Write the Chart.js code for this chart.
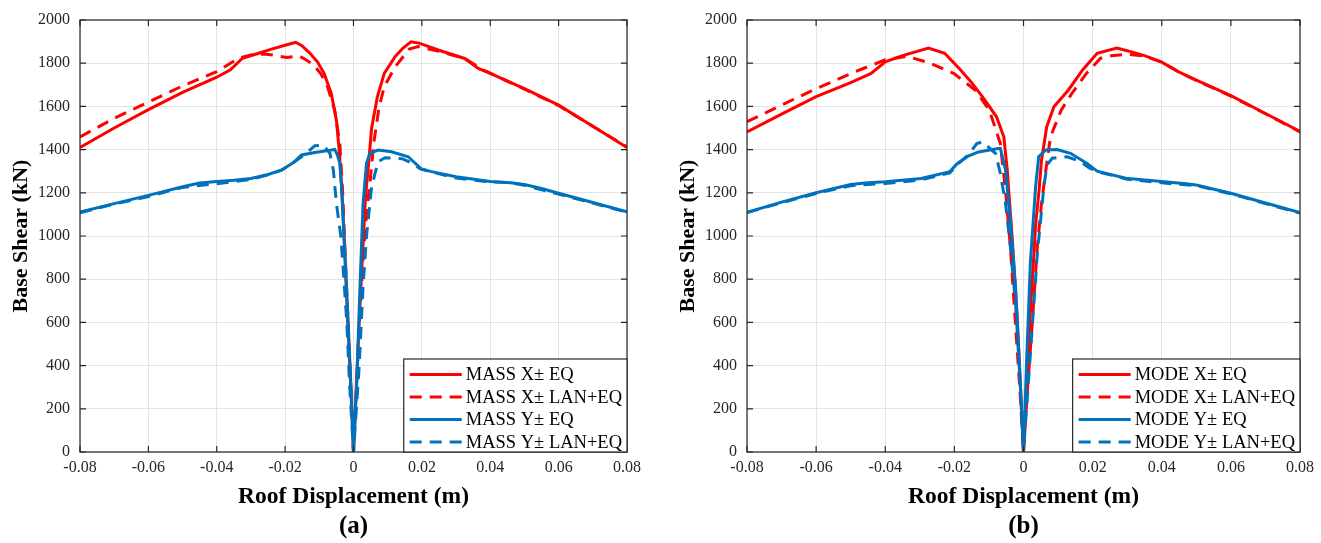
<!DOCTYPE html>
<html>
<head>
<meta charset="utf-8">
<script src="https://cdn.jsdelivr.net/npm/chart.js@4.4.1/dist/chart.umd.min.js"></script>
<style>
  body { margin: 0; background: #fff; width: 1321px; height: 543px; overflow: hidden; position: relative; }
  canvas { position: absolute; top: 0; }
  #chartA { left: 0; }
  #chartB { left: 667px; }
</style>
</head>
<body>
<canvas id="chartA" width="660" height="543"></canvas>
<canvas id="chartB" width="654" height="543"></canvas>
<script>
// axis ticks
const xTicks = [-0.08, -0.06, -0.04, -0.02, 0, 0.02, 0.04, 0.06, 0.08];
const xTickLabels = ['-0.08', '-0.06', '-0.04', '-0.02', '0', '0.02', '0.04', '0.06', '0.08'];
const yTicks = [0, 200, 400, 600, 800, 1000, 1200, 1400, 1600, 1800, 2000];
const yTickLabels = ['0', '200', '400', '600', '800', '1000', '1200', '1400', '1600', '1800', '2000'];

const namesA = ['MASS X\u00b1 EQ', 'MASS X\u00b1 LAN+EQ', 'MASS Y\u00b1 EQ', 'MASS Y\u00b1 LAN+EQ'];
const namesB = ['MODE X\u00b1 EQ', 'MODE X\u00b1 LAN+EQ', 'MODE Y\u00b1 EQ', 'MODE Y\u00b1 LAN+EQ'];

// (a) MASS X± EQ
const massXEqDisp = [-0.08, -0.07, -0.06, -0.05, -0.04, -0.036, -0.0325, -0.028, -0.024, -0.02, -0.0169, -0.015, -0.0128, -0.0105, -0.0086, -0.0065, -0.005, -0.0042, -0.0034, -0.0025, -0.0017, -0.0008, 0,
  0.0008, 0.0017, 0.0026, 0.0035, 0.0044, 0.0053, 0.007, 0.009, 0.0122, 0.0145, 0.0168, 0.0192, 0.025, 0.0325, 0.0365, 0.04, 0.05, 0.06, 0.07, 0.08];
const massXEqShear = [1410, 1500, 1585, 1665, 1735, 1769, 1823, 1845, 1865, 1883, 1897, 1880, 1847, 1805, 1753, 1660, 1536, 1400, 1211, 900, 611, 300, 0,
  300, 611, 900, 1180, 1330, 1500, 1645, 1753, 1831, 1870, 1899, 1893, 1860, 1822, 1776, 1753, 1682, 1606, 1508, 1410];

// (a) MASS X± LAN+EQ
const massXLanDisp = [-0.08, -0.07, -0.06, -0.05, -0.04, -0.0336, -0.03, -0.026, -0.0225, -0.0195, -0.016, -0.0138, -0.0117, -0.0095, -0.0076, -0.0055, -0.0047, -0.004, -0.0032, -0.0024, -0.0016, -0.0008, 0,
  0.0009, 0.0018, 0.0028, 0.0038, 0.0049, 0.0059, 0.0075, 0.009, 0.0122, 0.0163, 0.0189, 0.025, 0.0325, 0.038, 0.05, 0.06, 0.07, 0.08];
const massXLanShear = [1459, 1545, 1620, 1695, 1761, 1823, 1838, 1843, 1835, 1826, 1834, 1815, 1792, 1750, 1691, 1583, 1500, 1428, 1211, 900, 611, 300, 0,
  300, 611, 900, 1100, 1260, 1428, 1598, 1691, 1784, 1865, 1877, 1855, 1822, 1768, 1680, 1604, 1508, 1412];

// (a) MASS Y± EQ
const massYEqDisp = [-0.08, -0.07, -0.06, -0.05, -0.045, -0.04, -0.035, -0.03, -0.025, -0.021, -0.0172, -0.0152, -0.0113, -0.0064, -0.0055, -0.0047, -0.004, -0.0035, -0.0025, -0.0016, -0.0006, 0,
  0.0009, 0.0019, 0.0028, 0.0038, 0.0048, 0.0072, 0.0111, 0.016, 0.0199, 0.0228, 0.03, 0.04, 0.046, 0.05, 0.055, 0.06, 0.07, 0.08];
const massYEqShear = [1111, 1150, 1188, 1228, 1245, 1252, 1258, 1266, 1285, 1306, 1344, 1375, 1387, 1398, 1401, 1375, 1336, 1228, 919, 611, 250, 0,
  302, 767, 1152, 1336, 1383, 1398, 1390, 1367, 1310, 1298, 1274, 1252, 1247, 1238, 1220, 1198, 1155, 1112];

// (a) MASS Y± LAN+EQ
const massYLanDisp = [-0.08, -0.07, -0.06, -0.05, -0.04, -0.03, -0.025, -0.021, -0.0172, -0.014, -0.0113, -0.0089, -0.0069, -0.0059, -0.005, -0.0037, -0.003, -0.002, -0.0011, 0,
  0.0008, 0.0016, 0.0028, 0.0038, 0.0053, 0.0072, 0.0092, 0.0142, 0.0174, 0.0194, 0.023, 0.03, 0.04, 0.045, 0.05, 0.06, 0.07, 0.08];
const massYLanShear = [1108, 1148, 1183, 1225, 1242, 1262, 1283, 1305, 1345, 1380, 1418, 1421, 1383, 1306, 1152, 998, 843, 611, 302, 0,
  190, 380, 767, 998, 1228, 1344, 1362, 1358, 1335, 1312, 1296, 1268, 1250, 1248, 1235, 1194, 1152, 1110];

// (b) MODE X± EQ
const modeXEqDisp = [-0.08, -0.07, -0.06, -0.05, -0.0441, -0.04, -0.035, -0.0275, -0.0228, -0.0182, -0.015, -0.0119, -0.0078, -0.0057, -0.0047, -0.004, -0.0033, -0.0018, -0.0009, 0,
  0.0009, 0.002, 0.0035, 0.0045, 0.0052, 0.0067, 0.0088, 0.013, 0.0171, 0.0213, 0.027, 0.03, 0.035, 0.04, 0.0452, 0.05, 0.06, 0.07, 0.08];
const modeXEqShear = [1482, 1564, 1645, 1710, 1753, 1806, 1835, 1870, 1846, 1769, 1710, 1645, 1552, 1459, 1306, 1150, 998, 611, 310, 0,
  310, 650, 1050, 1211, 1350, 1505, 1598, 1676, 1769, 1846, 1870, 1858, 1835, 1805, 1757, 1722, 1650, 1567, 1484];

// (b) MODE X± LAN+EQ
const modeXLanDisp = [-0.08, -0.07, -0.06, -0.05, -0.04, -0.0337, -0.0275, -0.0202, -0.014, -0.0099, -0.0067, -0.0052, -0.0038, -0.0024, -0.0011, 0,
  0.0012, 0.0026, 0.004, 0.0052, 0.0062, 0.0078, 0.0109, 0.014, 0.0182, 0.0223, 0.0254, 0.03, 0.035, 0.04, 0.0452, 0.05, 0.06, 0.07, 0.08];
const modeXLanShear = [1529, 1606, 1682, 1752, 1816, 1832, 1803, 1753, 1676, 1583, 1428, 1211, 950, 611, 302, 0,
  302, 611, 950, 1150, 1273, 1459, 1583, 1660, 1753, 1823, 1834, 1842, 1833, 1805, 1757, 1720, 1648, 1566, 1482];

// (b) MODE Y± EQ
const modeYEqDisp = [-0.08, -0.07, -0.06, -0.05, -0.045, -0.04, -0.0296, -0.0213, -0.0192, -0.016, -0.013, -0.0073, -0.0067, -0.0052, -0.0038, -0.0023, -0.0011, 0,
  0.0009, 0.002, 0.0035, 0.0044, 0.0064, 0.0097, 0.0136, 0.0184, 0.0213, 0.0296, 0.04, 0.047, 0.05, 0.06, 0.07, 0.08];
const modeYEqShear = [1110, 1157, 1200, 1238, 1246, 1251, 1266, 1298, 1335, 1370, 1389, 1405, 1406, 1306, 1074, 765, 380, 0,
  420, 880, 1228, 1367, 1398, 1400, 1383, 1336, 1300, 1267, 1252, 1242, 1236, 1198, 1153, 1108];

// (b) MODE Y± LAN+EQ
const modeYLanDisp = [-0.08, -0.07, -0.06, -0.05, -0.04, -0.03, -0.0213, -0.0192, -0.016, -0.0135, -0.0119, -0.0081, -0.0067, -0.0052, -0.0038, -0.0023, -0.0009, 0,
  0.002, 0.004, 0.0059, 0.0068, 0.0083, 0.0126, 0.0165, 0.019, 0.0213, 0.03, 0.04, 0.05, 0.06, 0.07, 0.08];
const modeYLanShear = [1108, 1154, 1197, 1233, 1243, 1259, 1292, 1330, 1375, 1428, 1436, 1383, 1290, 1152, 951, 688, 302, 0,
  456, 919, 1228, 1329, 1360, 1367, 1345, 1315, 1298, 1263, 1246, 1233, 1195, 1150, 1106];

const SERIF = '"Liberation Serif", "Times New Roman", serif';
const lineColors = ['#ff0000', '#ff0000', '#0072bd', '#0072bd'];
const lineDashes = [[], [12, 8], [], [12, 8]];
const gridColor = '#e3e3e3';
const axisColor = '#262626';

Chart.defaults.font.family = SERIF;

function toPoints(xs, ys) {
    return xs.map((x, i) => ({ x: x, y: ys[i] }));
}

// box around the plot with inward ticks on all four sides, plus the panel caption
const framePlugin = {
    id: 'frame',
    afterDatasetsDraw(chart, args, opts) {
        const { ctx, chartArea: a, scales } = chart;
        ctx.save();
        ctx.strokeStyle = axisColor;
        ctx.lineWidth = 1.2;
        ctx.strokeRect(a.left, a.top, a.right - a.left, a.bottom - a.top);
        ctx.beginPath();
        xTicks.forEach(v => {
            const px = scales.x.getPixelForValue(v);
            ctx.moveTo(px, a.bottom); ctx.lineTo(px, a.bottom - 6);
            ctx.moveTo(px, a.top); ctx.lineTo(px, a.top + 6);
        });
        yTicks.forEach(v => {
            const py = scales.y.getPixelForValue(v);
            ctx.moveTo(a.left, py); ctx.lineTo(a.left + 6, py);
            ctx.moveTo(a.right, py); ctx.lineTo(a.right - 6, py);
        });
        ctx.stroke();
        // caption (a) / (b) under the axis title
        ctx.fillStyle = '#000';
        ctx.font = 'bold 25px ' + SERIF;
        ctx.textAlign = 'center';
        ctx.textBaseline = 'middle';
        ctx.fillText(opts.caption, (a.left + a.right) / 2, 527);
        ctx.restore();
    }
};

// legend box in the lower right corner of the plot
const boxLegendPlugin = {
    id: 'boxLegend',
    afterDraw(chart) {
        const { ctx, chartArea: a } = chart;
        const sets = chart.data.datasets;
        ctx.save();
        ctx.font = '18.5px ' + SERIF;
        const textW = Math.max(...sets.map(d => ctx.measureText(d.label).width));
        const w = 62 + textW + 5;
        const rowH = 22.5;
        const h = 93;
        const left = a.right - w;
        const top = a.bottom - h;
        ctx.fillStyle = '#fff';
        ctx.fillRect(left, top, w, h);
        ctx.strokeStyle = axisColor;
        ctx.lineWidth = 1.2;
        ctx.strokeRect(left, top, w, h);
        sets.forEach((d, i) => {
            const y = top + 15.5 + i * rowH;
            ctx.strokeStyle = d.borderColor;
            ctx.lineWidth = 3;
            ctx.setLineDash(d.borderDash);
            ctx.beginPath();
            ctx.moveTo(left + 6, y);
            ctx.lineTo(left + 58, y);
            ctx.stroke();
            ctx.setLineDash([]);
            ctx.fillStyle = '#000';
            ctx.textBaseline = 'middle';
            ctx.fillText(d.label, left + 62, y + 1);
        });
        ctx.restore();
    }
};

function makeChart(id, names, dispArrays, shearArrays, caption, rightPad) {
    const ctx = document.getElementById(id).getContext('2d');
    return new Chart(ctx, {
        type: 'scatter',
        data: {
            datasets: names.map((name, i) => ({
                label: name,
                data: toPoints(dispArrays[i], shearArrays[i]),
                showLine: true,
                borderColor: lineColors[i],
                backgroundColor: lineColors[i],
                borderDash: lineDashes[i],
                borderWidth: 3,
                pointRadius: 0,
                tension: 0,
                order: 4 - i
            }))
        },
        options: {
            responsive: false,
            animation: false,
            devicePixelRatio: 1,
            layout: { padding: { top: 20, right: rightPad, left: 0, bottom: 0 } },
            plugins: {
                legend: { display: false },
                tooltip: { enabled: false },
                frame: { caption: caption }
            },
            scales: {
                x: {
                    type: 'linear',
                    min: -0.08,
                    max: 0.08,
                    afterBuildTicks: s => { s.ticks = xTicks.map(v => ({ value: v })); },
                    afterFit: s => { s.height = 91; s.paddingLeft = 0; s.paddingRight = 0; },
                    ticks: {
                        callback: (v, i) => xTickLabels[i],
                        color: axisColor,
                        font: { family: SERIF, size: 16 },
                        padding: 6,
                        maxRotation: 0,
                        autoSkip: false
                    },
                    grid: { color: gridColor, drawTicks: false },
                    border: { display: false },
                    title: {
                        display: true,
                        text: 'Roof Displacement (m)',
                        color: '#000',
                        font: { family: SERIF, size: 23.5, weight: 'bold' },
                        padding: { top: 0, bottom: 32 }
                    }
                },
                y: {
                    type: 'linear',
                    min: 0,
                    max: 2000,
                    afterBuildTicks: s => { s.ticks = yTicks.map(v => ({ value: v })); },
                    afterFit: s => { s.width = 80; s.paddingTop = 0; s.paddingBottom = 0; },
                    ticks: {
                        callback: (v, i) => yTickLabels[i],
                        color: axisColor,
                        font: { family: SERIF, size: 16 },
                        padding: 10,
                        autoSkip: false
                    },
                    grid: { color: gridColor, drawTicks: false },
                    border: { display: false },
                    title: {
                        display: true,
                        text: 'Base Shear (kN)',
                        color: '#000',
                        font: { family: SERIF, size: 22, weight: 'bold' },
                        padding: { top: 8, bottom: 0 }
                    }
                }
            }
        },
        plugins: [framePlugin, boxLegendPlugin]
    });
}

makeChart('chartA', namesA,
    [massXEqDisp, massXLanDisp, massYEqDisp, massYLanDisp],
    [massXEqShear, massXLanShear, massYEqShear, massYLanShear],
    '(a)', 33);

makeChart('chartB', namesB,
    [modeXEqDisp, modeXLanDisp, modeYEqDisp, modeYLanDisp],
    [modeXEqShear, modeXLanShear, modeYEqShear, modeYLanShear],
    '(b)', 21);
</script>
</body>
</html>
